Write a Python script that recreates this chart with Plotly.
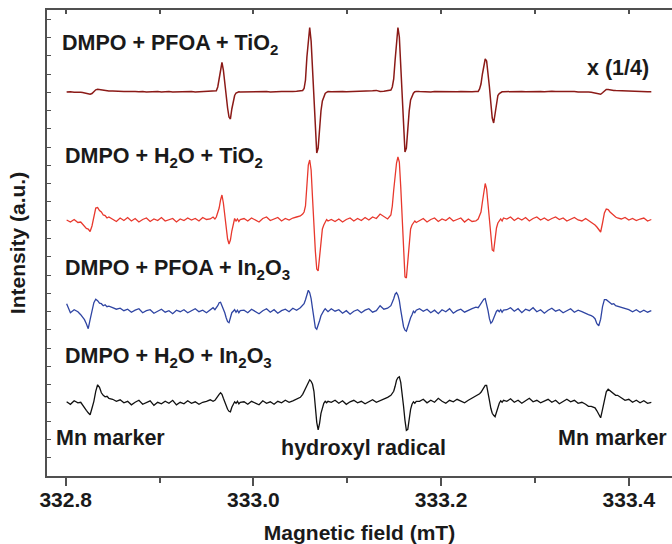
import plotly.graph_objects as go

# Magnetic field grid (mT)
field_mT = [
    332.801, 332.805, 332.809, 332.813,
    332.816, 332.818, 332.820, 332.822, 332.824, 332.826, 332.828, 332.830, 332.832, 332.834, 332.836, 332.838, 332.840, 332.842, 332.844, 332.846,
    332.850, 332.854, 332.858, 332.862, 332.866, 332.870, 332.874, 332.878, 332.882, 332.886, 332.890, 332.894, 332.898, 332.902, 332.906, 332.910, 332.914, 332.918, 332.922, 332.926, 332.930, 332.934, 332.938, 332.942, 332.946, 332.950, 332.954, 332.957,
    332.959, 332.9605, 332.962, 332.9635, 332.965, 332.9665, 332.968, 332.9695, 332.971, 332.9725, 332.974, 332.9755, 332.977, 332.9785, 332.980, 332.9815, 332.983, 332.9845, 332.986,
    332.990, 332.994, 332.998, 333.002, 333.006, 333.010, 333.014, 333.018, 333.022, 333.026, 333.030, 333.034, 333.038, 333.042, 333.046, 333.050,
    333.0525, 333.054, 333.0555, 333.057, 333.0585, 333.060, 333.0615, 333.063, 333.0645, 333.066, 333.0675, 333.069, 333.0705, 333.072, 333.0735, 333.075, 333.0765, 333.078, 333.0795,
    333.083, 333.087, 333.091, 333.095, 333.099, 333.103, 333.107, 333.111, 333.115, 333.119, 333.123, 333.127, 333.131, 333.135, 333.139, 333.143,
    333.1465, 333.148, 333.1495, 333.151, 333.1525, 333.154, 333.1555, 333.157, 333.1585, 333.160, 333.1615, 333.163, 333.1645, 333.166, 333.1675, 333.169, 333.1705, 333.172, 333.1735,
    333.177, 333.181, 333.185, 333.189, 333.193, 333.197, 333.201, 333.205, 333.209, 333.213, 333.217, 333.221, 333.225, 333.229, 333.233, 333.237,
    333.2395, 333.241, 333.2425, 333.244, 333.2455, 333.247, 333.2485, 333.250, 333.2515, 333.253, 333.2545, 333.256, 333.2575, 333.259, 333.2605, 333.262, 333.2635, 333.265, 333.2665,
    333.270, 333.274, 333.278, 333.282, 333.286, 333.290, 333.294, 333.298, 333.302, 333.306, 333.310, 333.314, 333.318, 333.322, 333.326, 333.330, 333.334, 333.338, 333.342, 333.346, 333.350, 333.354, 333.357,
    333.360, 333.362, 333.364, 333.366, 333.368, 333.370, 333.372, 333.374, 333.376, 333.378, 333.380, 333.382, 333.384, 333.386, 333.388,
    333.392, 333.396, 333.400, 333.404, 333.408, 333.412, 333.416, 333.420, 333.424,
]

# Intensities (a.u., relative to each baseline)
int_pfoa_tio2 = [
    0, 0.3, -0.2, 0.1,
    -0.2, -0.5, -0.8, -1.3, -1.9, -2.3, -1.5, 0.5, 2.2, 2.7, 2.3, 1.9, 1.6, 1.4, 1.2, 1.0,
    0.9, 0.6, 0.8, 0.4, 0.6, 0.2, 0.5, 0.3, 0.6, 0.1, 0.4, 0.2, 0.5, 0.0, 0.3, 0.4, 0.1, 0.3, 0.0, 0.4, 0.2, 0.5, 0.1, 0.3, 0.0, 0.2, 0.4, 0.6,
    0.5, 1.2, 5, 13, 23, 29.5, 22, 8, -4, -16, -25, -27, -17, -8, -3.5, -1, -0.2, 0.3, 0.1,
    0.2, 0.4, 0.0, 0.3, 0.5, 0.2, 0.4, 0.1, 0.5, 0.3, 0.6, 0.4, 0.2, 0.5, 0.8, 1.3,
    1.5, 3.5, 12, 35, 55, 64.5, 51, 20, -12, -42, -61, -56, -35, -19, -9, -4, -1.5, -0.3, 0.4,
    0.3, 0.5, 0.2, 0.6, 0.3, 0.4, 0.7, 0.3, 0.5, 0.9, 0.6, 1.2, 1.6, 0.5, 0.7, 1.0,
    2, 5, 13, 32, 53, 64.5, 55, 24, -14, -40, -60, -56, -36, -19, -8, -3.5, -1.2, 0.3, 0.6,
    0.4, 0.2, 0.5, 0.1, 0.4, 0.3, 0.6, 0.2, 0.4, 0.1, 0.3, 0.5, 0.2, 0.4, 0.3, 0.6,
    0.6, 3, 8, 18, 28, 33, 31, 20, 5, -11, -26, -31, -21, -9, -3.5, -1.5, -0.4, 0.2, 0.3,
    0.4, 0.2, 0.5, 0.3, 0.6, 0.2, 0.4, 0.5, 0.1, 0.4, 0.3, 0.6, 0.8, 0.4, 0.5, 0.2, 0.4, 0.3, 0.5, 0.1, 0.3, 0.2, 0.0,
    -0.2, -0.5, -0.9, -1.4, -2.0, -2.3, -0.8, 1.3, 2.6, 2.6, 2.1, 1.8, 1.6, 1.4, 1.3,
    1.1, 0.8, 0.9, 0.5, 0.6, 0.3, 0.5, 0.2, 0.3,
]

int_h2o_tio2 = [
    0, -2, 0.5, -2.5,
    -2, -4.5, -7, -8.5, -9, -11.5, -6, 3, 12, 12.5, 9.5, 8, 5, 4.5, 2, 3,
    1, -1.5, 2, -0.5, 2.5, -1, 1.5, -2, 0.5, 2, -1.5, 1, -0.5, 2.5, -1, 0.5, 1.5, -2, 1, -0.5, 2, 0, 1.5, -1, 2.5, 0.5, 1, 3,
    1, 3, 7, 12, 20, 25, 17, 5, -8, -19, -24, -20, -11, -3, 1.5, -1, 1, -1.5, 0.5,
    1.5, -1, 2, 0, -2, 1.5, 3, -0.5, 1, 2.5, -1, 1.5, 0, 2, 3, 4,
    6, 8, 14, 36, 55, 60, 50, 22, -8, -31, -49, -51, -37, -20, -9, -5, -2, 0.5, -1,
    0.5, -1.5, 1, -2, 0.5, 2, -1, 1.5, -0.5, 2.5, 0, 3, 1.5, 6, 3.5, 1,
    5, 14, 30, 44, 57, 63, 58, 33, 1, -33, -57, -58, -40, -21, -9, -5, -3, -1, -2.5,
    -1, 1.5, -2, 0.5, 2, -1.5, 1, -0.5, 2.5, -1, 0.5, 2, -2, 1, -1.5, -1,
    1, 4, 8, 18, 30, 36.5, 31, 16, -2, -18, -30, -31, -19, -8, -3, -1.5, 1, -1, 2,
    1, 3, -0.5, 2, 0, 2.5, -1, 1.5, 3, 0, 2, -0.5, 1.5, 3, 0.5, 2, -1, 1, 2.5, 0, -1, 1.5, -0.5,
    -2, -3.5, -5, -7, -9, -12, -3, 7, 11, 10.5, 8, 6, 4, 3, 2,
    1, 2.5, 0, 1.5, -0.5, 1, 2, -1, 0.5,
]

int_pfoa_in2o3 = [
    8, -1, 2, 0,
    -3, -5, -8, -12, -17, -8, 2, 9, 12.5, 11, 8.5, 8, 6, 7, 5, 5.5,
    4, 2.5, 3.5, 1, 2.5, -0.5, 1.5, 3, -1, 1, 2, -1.5, 0.5, 2.5, -0.5, 1, -2, 1.5, 0, 2, -1, 1, 3, 0, 1.5, -1, 2, 4,
    2, 3.5, 6, 9, 9.5, 6, 3, -1, -6, -10, -11, -5, -1, 0.5, 2, -0.5, 1.5, -1, 1,
    1.5, -1, 2.5, 0, -2, 1, 3, -0.5, 2, -1.5, 1, 2.5, 0, 3.5, 1.5, 4,
    6, 8, 12, 18, 21.5, 19, 13, 3, -9, -16, -17.5, -14, -9, -4, -1, 1, 3, 1, 0,
    3, 0.5, 2, -1.5, 1, -2.5, 0.5, 2, -1, 1.5, 3, -0.5, 1, 6, 2.5, 3.5,
    6, 9, 13, 17.5, 19, 16.5, 11, 1.5, -9, -15, -18.5, -19.5, -15, -10, -6, -3, 0.5, -1, 1.5,
    3, 0.5, 2.5, -1, 1.5, -2, 2, 0, 3, -1.5, 1, 2.5, -0.5, 1.5, 3, 4.5,
    4, 6, 8, 11, 12.5, 13, 8, 1, -7, -11.5, -10, -6, -2, 0.5, 1.5, 0, 2, -0.5, 1.5,
    2, 4, 0.5, 3, -1, 2.5, 1, 4, 0, 2, -1.5, 1.5, 3.5, 0.5, 2, -1, 1, 3, -0.5, 1.5, 0, -2, -3,
    -4, -5, -7, -12, -14, -7.5, 5, 12, 12, 10, 9, 7.5, 8, 6, 5.5,
    4.5, 3, 2, 0, 2, -0.5, 1.5, -0.5, 1,
]

int_h2o_in2o3 = [
    1.5, -1, 2.5, 0.5,
    1, -2, -4, -7, -9.5, -11.5, -5, 2, 12, 18.5, 16, 10.5, 8, 6.5, 7, 5,
    4, 2, 3.5, 0.5, 2, -1.5, 1, 3, -1, 0.5, 2.5, -2, 1, -0.5, 2, 0, 3, -1.5, 1, -0.5, 2.5, 0, 1.5, -1, 1, 2, 3.5, 2,
    3, 5, 7.5, 9, 10.5, 9, 5, 1, -3, -6, -8, -8.5, -4, -1, 1.5, 0, 2, -0.5, 1,
    1.5, -1, 2, 0.5, -1.5, 2.5, 0, 1.5, -1, 2, 0.5, 3, 1, 2.5, 4, 6,
    9, 12, 15, 19, 22, 23.5, 22, 19, 12, -4, -19, -26.5, -20, -10, -4, 0, 2, 0.5, 2,
    1, 3, 0, 2.5, -1, 1.5, 3, 0.5, 2, -0.5, 1.5, 3.5, 1, 2.5, 4, 6,
    8, 10, 12, 17, 23, 25.5, 26.5, 21, 11, -3, -17, -27, -26, -15, -6, -1, 1.5, 0, 2,
    2, 4, 0.5, 3, 1, 5, 2, 0, 3, 1.5, 4, 2, 0.5, 3, 5, 7,
    8, 9.5, 11, 13, 16, 18, 18, 12, 3, -5, -10, -12, -13.5, -9, -3, 0, 2.5, 1, 3,
    2, 4.5, 1, 3, 0, 2.5, 5, 1.5, 3, 0.5, 2, 4, 1, 3, -0.5, 2, 4, 1.5, 3, 0, 1, -1, -3,
    -3, -3.5, -4.5, -7.5, -11, -14.5, -6, 4, 11.5, 14, 12.5, 10.5, 9.5, 8, 8,
    5.5, 3, 4, 1, 3, 0.5, 2.5, 0, 1,
]

series = [int_pfoa_tio2, int_h2o_tio2, int_pfoa_in2o3, int_h2o_in2o3]
labels = [
    "DMPO + PFOA + TiO<sub>2</sub>",
    "DMPO + H<sub>2</sub>O + TiO<sub>2</sub>",
    "DMPO + PFOA + In<sub>2</sub>O<sub>3</sub>",
    "DMPO + H<sub>2</sub>O + In<sub>2</sub>O<sub>3</sub>",
]
offsets = [384, 256, 164.3, 72.7]
colors = ["#8b1a17", "#e8382d", "#2f45a3", "#111111"]
widths = [1.5, 1.3, 1.3, 1.3]

x_ticks = [332.8, 333.0, 333.2, 333.4]
x_ticklabels = ["332.8", "333.0", "333.2", "333.4"]

FONT = "Liberation Sans, Arial, Helvetica, sans-serif"
TXT = "#1a1a1a"
AX = "#505050"

fig = go.Figure()
for vals, off, col, w, name in zip(series, offsets, colors, widths, labels):
    fig.add_trace(go.Scatter(
        x=field_mT, y=[v + off for v in vals], mode="lines",
        line=dict(color=col, width=w), name=name, showlegend=False,
        hoverinfo="skip",
    ))
# dummy trace to anchor the top mirror axis
fig.add_trace(go.Scatter(x=[field_mT[0]], y=[offsets[0]], xaxis="x2", mode="markers",
                         marker=dict(opacity=0), showlegend=False, hoverinfo="skip"))

xr = [332.78007, 333.44603]
fig.update_layout(
    width=672, height=544,
    margin=dict(l=47, r=0, t=10, b=68, autoexpand=False),
    paper_bgcolor="white", plot_bgcolor="white",
    font=dict(family=FONT, color=TXT, size=21, weight="bold"),
    xaxis=dict(
        range=xr, tickmode="array", tickvals=x_ticks, ticktext=x_ticklabels, automargin=False,
        ticks="outside", ticklen=8, tickwidth=1.5, tickcolor=AX, ticklabelstandoff=-4,
        minor=dict(tickmode="array", tickvals=[332.9, 333.1, 333.3], ticks="outside", ticklen=5, tickwidth=1.5, tickcolor=AX),
        showline=True, linecolor=AX, linewidth=2, showgrid=False, zeroline=False,
        tickfont=dict(family=FONT, size=21, color=TXT, weight="bold"),
        title=dict(text="Magnetic field (mT)", font=dict(family=FONT, size=21, color=TXT, weight="bold"), standoff=15),
    ),
    xaxis2=dict(
        range=xr, overlaying="x", side="top", anchor="y", automargin=False,
        tickmode="array", tickvals=[332.8, 332.9, 333.0, 333.1, 333.2, 333.3, 333.4],
        ticks="inside", ticklen=4, tickwidth=1.5, tickcolor=AX, showticklabels=False,
        showline=True, linecolor=AX, linewidth=2, showgrid=False, zeroline=False,
    ),
    yaxis=dict(
        range=[0, 466], tick0=0, dtick=18.27, ticks="inside", ticklen=4, tickwidth=1, tickcolor=AX,
        automargin=False,
        showticklabels=False, showline=True, linecolor=AX, linewidth=2, showgrid=False, zeroline=False,
        title=dict(text="Intensity (a.u.)", font=dict(family=FONT, size=21, color=TXT, weight="bold"), standoff=14),
    ),
)

def px_x(px):
    return (px - 47) / 625.0

def px_y(py):
    return (476 - py) / 466.0

ann = [
    (labels[0], 60, 45, "left"),
    (labels[1], 63, 157, "left"),
    (labels[2], 63, 269, "left"),
    (labels[3], 63, 357, "left"),
    ("x (1/4)", 617.5, 68, "center"),
    ("Mn marker", 54.3, 438, "left"),
    ("hydroxyl radical", 363.3, 448, "center"),
    ("Mn marker", 612.2, 438, "center"),
]
for text, ax_, ay_, xa in ann:
    fig.add_annotation(
        text=text, x=px_x(ax_), y=px_y(ay_), xref="paper", yref="paper",
        xanchor=xa, yanchor="middle", showarrow=False,
        font=dict(family=FONT, size=21.5, color=TXT, weight="bold"),
    )

fig.write_html("out.html", config={"displayModeBar": False},
               post_script="document.body.style.margin='0';document.body.style.overflow='hidden';")
